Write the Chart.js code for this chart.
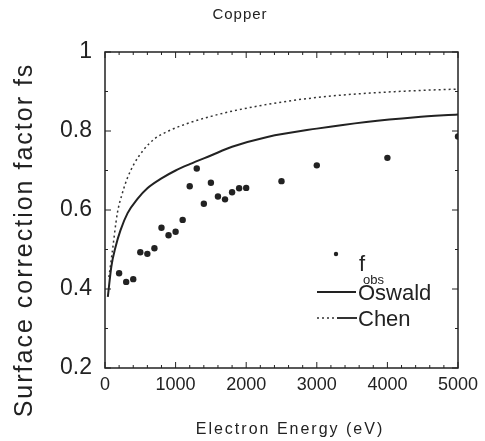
<!DOCTYPE html>
<html>
<head>
<meta charset="utf-8">
<script src="https://cdn.jsdelivr.net/npm/chart.js@4"></script>
<style>
  body { margin: 0; background: #fff; }
  canvas { display: block; }
</style>
</head>
<body>
<canvas id="copperChart" width="485" height="441"></canvas>
<script>
// measured f_obs
const obsEnergy = [200, 300, 400, 500, 600, 700, 800, 900, 1000, 1100, 1200, 1300, 1400, 1500, 1600, 1700, 1800, 1900, 2000, 2500, 3000, 4000, 5000];
const obsValue = [0.44, 0.418, 0.425, 0.493, 0.489, 0.503, 0.555, 0.536, 0.545, 0.575, 0.66, 0.705, 0.616, 0.669, 0.634, 0.627, 0.645, 0.655, 0.656, 0.673, 0.713, 0.732, 0.786];

// Oswald curve
const oswaldEnergy = [40, 90, 150, 220, 320, 460, 600, 800, 1000, 1200, 1500, 1800, 2300, 3000, 3700, 4400, 5000];
const oswaldValue = [0.38, 0.457, 0.507, 0.549, 0.592, 0.628, 0.655, 0.68, 0.7, 0.716, 0.738, 0.76, 0.785, 0.806, 0.823, 0.835, 0.842];

// Chen curve
const chenEnergy = [55, 100, 175, 245, 315, 410, 550, 700, 900, 1150, 1500, 1820, 2530, 3230, 3940, 4650, 5000];
const chenValue = [0.43, 0.49, 0.592, 0.642, 0.68, 0.716, 0.753, 0.78, 0.8, 0.818, 0.837, 0.851, 0.874, 0.889, 0.898, 0.904, 0.906];

const FONT = "'Liberation Sans', Arial, sans-serif";
const INK = '#222';

const pts = (xs, ys) => xs.map((x, i) => ({ x: x, y: ys[i] }));

// frame, inward ticks, legend and titles
const decor = {
  id: 'decor',
  afterDraw(chart) {
    const { ctx, chartArea: a, scales: { x, y } } = chart;
    const seg = (x1, y1, x2, y2) => { ctx.beginPath(); ctx.moveTo(x1, y1); ctx.lineTo(x2, y2); ctx.stroke(); };
    ctx.save();
    ctx.strokeStyle = INK;
    ctx.lineWidth = 1.5;
    ctx.strokeRect(a.left, a.top, a.width, a.height);

    ctx.lineWidth = 1;
    x.ticks.forEach(t => {
      const px = x.getPixelForValue(t.value);
      const len = t.value % 1000 === 0 ? 6 : 3;
      seg(px, a.bottom, px, a.bottom - len);
      seg(px, a.top, px, a.top + len);
    });
    y.ticks.forEach(t => {
      const py = y.getPixelForValue(t.value);
      const len = Math.round(t.value * 10) % 2 === 0 ? 6 : 3;
      seg(a.left, py, a.left + len, py);
      seg(a.right, py, a.right - len, py);
    });

    // legend
    const ds = chart.data.datasets;
    ctx.fillStyle = INK;
    ctx.beginPath();
    ctx.arc(336, 254, 2.2, 0, Math.PI * 2);
    ctx.fill();
    ctx.textAlign = 'left';
    ctx.textBaseline = 'alphabetic';
    ctx.font = '22px ' + FONT;
    ctx.fillText('f', 359, 271);
    ctx.font = '13px ' + FONT;
    ctx.fillText('obs', 363, 284);

    ctx.strokeStyle = ds[1].borderColor;
    ctx.lineWidth = ds[1].borderWidth;
    seg(317, 292, 356, 292);
    ctx.strokeStyle = ds[2].borderColor;
    ctx.lineWidth = ds[2].borderWidth;
    ctx.setLineDash(ds[2].borderDash);
    seg(317, 318, 337, 318);
    ctx.setLineDash([]);
    ctx.lineWidth = 2;
    seg(337, 318, 357, 318);

    ctx.font = '22px ' + FONT;
    ctx.textBaseline = 'middle';
    ctx.fillText(ds[1].label, 358, 294);
    ctx.fillText(ds[2].label, 358, 320);

    // titles
    ctx.textAlign = 'center';
    ctx.letterSpacing = '1px';
    ctx.font = '15px ' + FONT;
    ctx.fillText('Copper', 240, 15);
    ctx.letterSpacing = '2px';
    ctx.font = '16px ' + FONT;
    ctx.fillText('Electron Energy (eV)', 290, 430);
    ctx.translate(25, 240);
    ctx.rotate(-Math.PI / 2);
    ctx.font = '25px ' + FONT;
    ctx.fillText('Surface correction factor fs', 0, 0);
    ctx.restore();
  }
};

new Chart(document.getElementById('copperChart'), {
  type: 'scatter',
  data: {
    datasets: [
      {
        label: 'f_obs',
        data: pts(obsEnergy, obsValue),
        pointRadius: 3.2,
        pointBackgroundColor: INK,
        pointBorderWidth: 0,
        showLine: false
      },
      {
        label: 'Oswald',
        data: pts(oswaldEnergy, oswaldValue),
        showLine: true,
        borderColor: INK,
        borderWidth: 2,
        pointRadius: 0,
        cubicInterpolationMode: 'monotone'
      },
      {
        label: 'Chen',
        data: pts(chenEnergy, chenValue),
        showLine: true,
        borderColor: '#333',
        borderWidth: 1.5,
        borderDash: [2, 3],
        pointRadius: 0,
        cubicInterpolationMode: 'monotone'
      }
    ]
  },
  options: {
    responsive: false,
    animation: false,
    devicePixelRatio: 1,
    layout: { padding: { top: 52, right: 27, left: 0, bottom: 0 } },
    plugins: {
      legend: { display: false },
      tooltip: { enabled: false },
      title: { display: false }
    },
    scales: {
      x: {
        type: 'linear',
        min: 0,
        max: 5000,
        grid: { display: false, drawTicks: false },
        border: { display: false },
        ticks: {
          stepSize: 200,
          autoSkip: false,
          maxRotation: 0,
          padding: 6,
          color: INK,
          font: { family: FONT, size: 18 },
          callback: v => (v % 1000 === 0 ? String(v) : '')
        },
        afterFit: s => { s.height = 73; }
      },
      y: {
        min: 0.2,
        max: 1,
        grid: { display: false, drawTicks: false },
        border: { display: false },
        ticks: {
          stepSize: 0.1,
          autoSkip: false,
          padding: 13,
          color: INK,
          font: { family: FONT, size: 23 },
          callback: v => {
            const t = Math.round(v * 10);
            if (t % 2 !== 0) return '';
            return t === 10 ? '1' : (t / 10).toFixed(1);
          }
        },
        afterFit: s => { s.width = 105; }
      }
    }
  },
  plugins: [decor]
});
</script>
</body>
</html>
